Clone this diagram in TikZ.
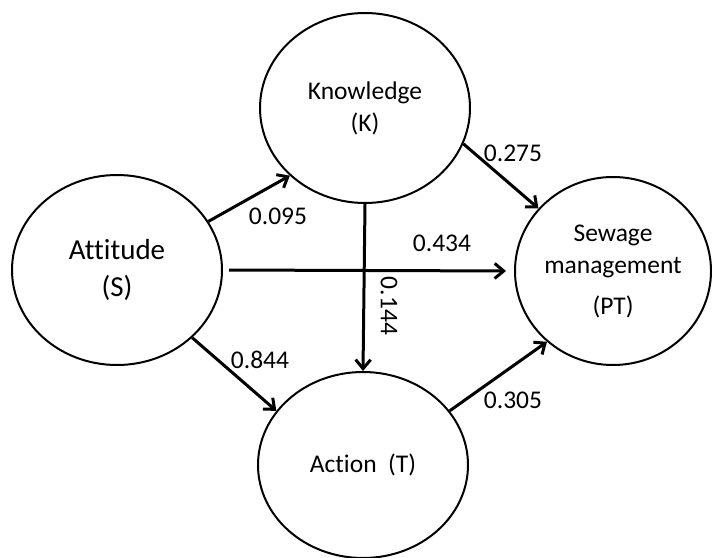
\documentclass[tikz,border=0pt]{standalone}
\usepackage{fontspec}
\setmainfont{Carlito}[Ligatures=NoCommon]
\usetikzlibrary{arrows.meta,shapes.geometric}

\begin{document}
\begin{tikzpicture}[x=0.5pt, y=-0.5pt, >={Straight Barb[length=4.5pt,width=7.5pt]},
    every node/.style={font=\fontsize{12.75}{16}\selectfont},
    var/.style={draw, ellipse, line width=1pt, inner sep=0pt, align=center},
    link/.style={->, line width=1.5pt},
    coef/.style={inner sep=0pt}]
    \useasboundingbox (0,0) rectangle (712,557);
    % variables
    \node[var, minimum width=105pt, minimum height=95pt, font=\fontsize{14.5}{18.5}\selectfont] (att) at (117,270) {Attitude\\(S)};
    \node[var, minimum width=105pt, minimum height=95pt] (know) at (365,108) {Knowledge\\(K)};
    \node[var, minimum width=98pt, minimum height=94pt] (sew) at (613,271) {Sewage\\management\\[4.5pt](PT)};
    \node[var, minimum width=105pt, minimum height=93pt] (act) at (363,465) {Action\ \ (T)};
    % paths
    \draw[link] (att.28) -- (know.222);
    \draw[link] (att.-42) -- (act.148);
    \draw[link, shorten <=3pt, shorten >=4pt] (att.east) -- (sew.west);
    \draw[link] (know.south) -- (act.north);
    \draw[link] (know.-20) -- (sew.140);
    \draw[link] (act.32) -- (sew.227);
    % coefficients
    \node[coef] (c1) at (278,216) {0.095};
    \node[coef] (c2) at (442,243) {0.434};
    \node[coef, rotate=-90] (c3) at (389,306) {0.144};
    \node[coef] (c4) at (260,360) {0.844};
    \node[coef] (c5) at (513,153) {0.275};
    \node[coef] (c6) at (513,400) {0.305};
\end{tikzpicture}
\end{document}
